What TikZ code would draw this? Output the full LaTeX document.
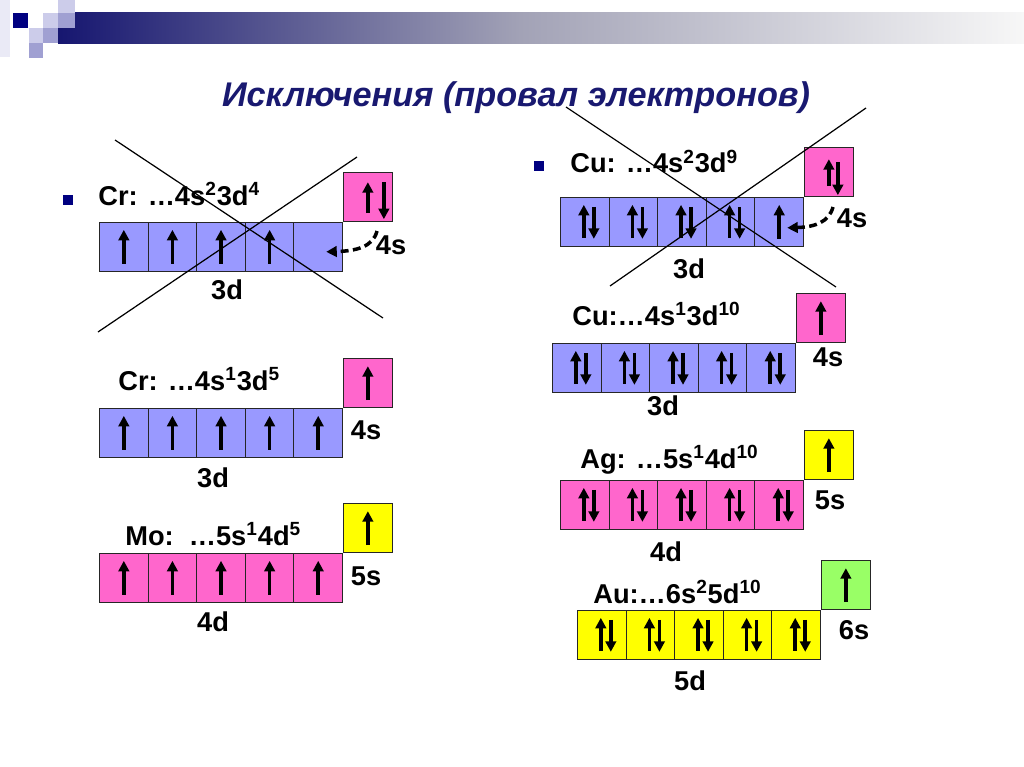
\documentclass[tikz,border=0pt]{standalone}
\usepackage{fontspec}
\setmainfont{Liberation Sans}
\usetikzlibrary{arrows.meta,calc}
\definecolor{dlav}{RGB}{153,153,255}
\definecolor{spink}{RGB}{255,102,204}
\definecolor{syell}{RGB}{255,255,0}
\definecolor{sgreen}{RGB}{153,255,102}
\definecolor{navy}{RGB}{0,0,128}
\definecolor{barnavy}{RGB}{22,22,112}
\definecolor{barmid}{RGB}{162,162,182}
\definecolor{barend}{RGB}{247,247,247}
\definecolor{titleblue}{RGB}{25,25,112}
\definecolor{lav0}{RGB}{234,234,246}
\definecolor{lav1}{RGB}{204,204,234}
\definecolor{lav2}{RGB}{160,160,210}
% one electron / a pair of electrons in a cell
\newcommand{\spinup}[1]{\draw[spin] ($(#1)+(0,17)$) -- ($(#1)+(0,-17)$);}
\newcommand{\spinpair}[1]{%
  \draw[spin] ($(#1)+(-1,16)$) -- ($(#1)+(-1,-17)$);
  \draw[spin] ($(#1)+(9,-15)$) -- ($(#1)+(9,17)$);}
\begin{document}
\begin{tikzpicture}[x=0.02cm, y=-0.02cm,
    cell/.style={draw=black!85, line width=0.6pt, minimum width=0.972cm, minimum height=0.972cm, inner sep=0pt, anchor=north west},
    spin/.style={line width=2pt, -{Triangle[length=6pt,width=6pt]}},
    jump/.style={line width=2pt, dash pattern=on 4.5pt off 2.5pt, -{Triangle[length=6pt,width=6pt]}},
    config/.style={font=\bfseries\fontsize{15.5}{18}\selectfont, inner sep=0pt, anchor=base west},
    sublevel/.style={font=\bfseries\fontsize{15.5}{18}\selectfont, inner sep=0pt},
    strike/.style={line width=0.7pt},
    marker/.style={fill=navy, minimum size=0.2cm, inner sep=0pt}]
    \useasboundingbox (0,0) rectangle (1024,767);
    \fill[white] (0,0) rectangle (1024,767);

    % header bar
    \shade[left color=barnavy, right color=barmid] (58,13) rectangle (520,44);
    \shade[left color=barmid, right color=barend] (519.5,13) rectangle (1024,44);
    \fill[lav0] (0,0) rectangle (10,57);
    \fill[navy] (13,13) rectangle (28,28);
    \fill[lav1] (43,13) rectangle (58,28);
    \fill[lav1] (58,0) rectangle (75,13);
    \fill[lav2] (58,13) rectangle (75,28);
    \fill[lav1] (29,28) rectangle (43,43);
    \fill[lav2] (29,43) rectangle (43,58);
    \fill[lav2] (43,28) rectangle (58,43);
    \node[font=\bfseries\itshape\fontsize{19.5}{24}\selectfont, text=titleblue, inner sep=0pt, anchor=base] (title) at (516,107) {Исключения (провал электронов)};

    % Cr, crossed out
    \node[marker] (crAbul) at (68,200) {};
    \node[config] (crAlab) at (98,205) {Cr: …4s\textsuperscript{2}3d\textsuperscript{4}};
    \foreach \i in {1,...,5}
        \node[cell, fill=dlav] (crA\i) at ({99+48.6*(\i-1)},222) {};
    \node[cell, fill=spink, anchor=south west] (crAs) at (crA5.north east) {};
    \foreach \i in {1,...,4}
        {\spinup{crA\i}}
    \draw[spin] ($(crAs)+(0,16)$) -- ($(crAs)+(0,-15)$);
    \draw[spin] ($(crAs)+(16,-15)$) -- ($(crAs)+(16,22)$);
    \coordinate (crAtail) at (377,231);
    \draw[jump] (crAtail) .. controls (373,247) and (356,251) .. ($(crA5)+(8,5)$);
    \node[sublevel] (crAd) at (227,290) {3d};
    \node[sublevel] (crAsl) at (391,245) {4s};
    \draw[strike] (115,140) -- (383,318);
    \draw[strike] (98,332) -- (357,157);

    % Cr
    \node[config] (crBlab) at (118,390) {Cr: …4s\textsuperscript{1}3d\textsuperscript{5}};
    \foreach \i in {1,...,5}
        \node[cell, fill=dlav] (crB\i) at ({99+48.6*(\i-1)},408) {};
    \node[cell, fill=spink, anchor=south west] (crBs) at (crB5.north east) {};
    \foreach \i in {1,...,5}
        {\spinup{crB\i}}
    \spinup{crBs}
    \node[sublevel] (crBd) at (213,478) {3d};
    \node[sublevel] (crBsl) at (366,430) {4s};

    % Mo
    \node[config] (molab) at (125,545) {Mo:\ \ …5s\textsuperscript{1}4d\textsuperscript{5}};
    \foreach \i in {1,...,5}
        \node[cell, fill=spink] (mo\i) at ({99+48.6*(\i-1)},553) {};
    \node[cell, fill=syell, anchor=south west] (mos) at (mo5.north east) {};
    \foreach \i in {1,...,5}
        {\spinup{mo\i}}
    \spinup{mos}
    \node[sublevel] (mod) at (213,622) {4d};
    \node[sublevel] (mosl) at (366,576) {5s};

    % Cu, crossed out
    \node[marker] (cuAbul) at (539,166) {};
    \node[config] (cuAlab) at (570,173) {Cu: …4s\textsuperscript{2}3d\textsuperscript{9}};
    \foreach \i in {1,...,5}
        \node[cell, fill=dlav] (cuA\i) at ({560+48.6*(\i-1)},197) {};
    \node[cell, fill=spink, anchor=south west] (cuAs) at (cuA5.north east) {};
    \foreach \i in {1,...,4}
        {\spinpair{cuA\i}}
    \spinup{cuA5}
    \draw[spin] ($(cuAs)+(0,14)$) -- ($(cuAs)+(0,-13)$);
    \draw[spin] ($(cuAs)+(9,-10)$) -- ($(cuAs)+(9,23)$);
    \coordinate (cuAtail) at (833,207);
    \draw[jump] (cuAtail) .. controls (829,222) and (815,227) .. ($(cuA5)+(8,6)$);
    \node[sublevel] (cuAd) at (689,269) {3d};
    \node[sublevel] (cuAsl) at (852,218) {4s};
    \draw[strike] (566,107) -- (836,287);
    \draw[strike] (610,286) -- (866,108);

    % Cu
    \node[config] (cuBlab) at (572,325) {Cu:…4s\textsuperscript{1}3d\textsuperscript{10}};
    \foreach \i in {1,...,5}
        \node[cell, fill=dlav] (cuB\i) at ({552+48.6*(\i-1)},343) {};
    \node[cell, fill=spink, anchor=south west] (cuBs) at (cuB5.north east) {};
    \foreach \i in {1,...,5}
        {\spinpair{cuB\i}}
    \spinup{cuBs}
    \node[sublevel] (cuBd) at (663,406) {3d};
    \node[sublevel] (cuBsl) at (828,357) {4s};

    % Ag
    \node[config] (aglab) at (580,468) {Ag: …5s\textsuperscript{1}4d\textsuperscript{10}};
    \foreach \i in {1,...,5}
        \node[cell, fill=spink] (ag\i) at ({560+48.6*(\i-1)},480) {};
    \node[cell, fill=syell, anchor=south west] (ags) at (ag5.north east) {};
    \foreach \i in {1,...,5}
        {\spinpair{ag\i}}
    \spinup{ags}
    \node[sublevel] (agd) at (666,552) {4d};
    \node[sublevel] (agsl) at (830,500) {5s};

    % Au
    \node[config] (aulab) at (593,603) {Au:…6s\textsuperscript{2}5d\textsuperscript{10}};
    \foreach \i in {1,...,5}
        \node[cell, fill=syell] (au\i) at ({577+48.6*(\i-1)},610) {};
    \node[cell, fill=sgreen, anchor=south west] (aus) at (au5.north east) {};
    \foreach \i in {1,...,5}
        {\spinpair{au\i}}
    \spinup{aus}
    \node[sublevel] (aud) at (690,681) {5d};
    \node[sublevel] (ausl) at (854,630) {6s};
\end{tikzpicture}
\end{document}
